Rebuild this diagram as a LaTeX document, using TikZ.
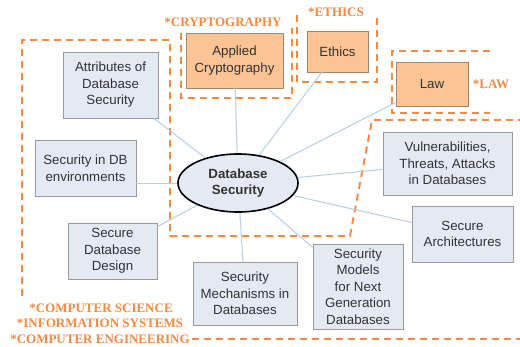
\documentclass[tikz,border=0pt]{standalone}
\usepackage{fontspec}
\setmainfont{Liberation Sans}
\newfontfamily\areafont{Liberation Serif}
\usetikzlibrary{shapes.geometric,positioning}
\definecolor{topicfill}{HTML}{E4EAF4}
\definecolor{topicdraw}{HTML}{9A9A9A}
\definecolor{topictext}{HTML}{333333}
\definecolor{otherfill}{HTML}{FBC495}
\definecolor{otherdraw}{HTML}{A08870}
\definecolor{areaorange}{HTML}{F58A42}
\definecolor{linkblue}{HTML}{B9CDE5}

\begin{document}
\begin{tikzpicture}[x=1pt,y=-1pt,
  font=\fontsize{13.3}{16.5}\selectfont,
  topic/.style={draw=topicdraw,fill=topicfill,text=topictext,align=center,inner sep=0pt,line width=0.8pt},
  other/.style={draw=otherdraw,fill=otherfill,text=topictext,align=center,inner sep=0pt,line width=0.8pt},
  area/.style={draw=areaorange,line width=1.9pt,dash pattern=on 7pt off 5pt},
  arealabel/.style={text=areaorange,font=\areafont\bfseries\fontsize{13}{15}\selectfont,inner sep=0pt},
  link/.style={draw=linkblue,line width=1pt}]
  \useasboundingbox[fill=white] (0,0) rectangle (520,346);

  % areas
  \draw[area] (22,296) -- (22,40) -- (170,40) -- (170,236) -- (350,236) -- (372,120) -- (520,120);
  \draw[area] (192,339) -- (520,339);
  \draw[area] (181,33) -- (181,98) -- (292,98) -- (292,28);
  \draw[area] (297,15) -- (297,82) -- (377,82) -- (377,15);
  \draw[area] (490,51) -- (392,51) -- (392,113) -- (490,113);

  \node[arealabel] (lcrypto) at (223,22) {*CRYPTOGRAPHY};
  \node[arealabel] (lethics) at (336,12) {*ETHICS};
  \node[arealabel] (llaw) at (491,84) {*LAW};
  \node[arealabel] (lcs) at (101,308) {*COMPUTER SCIENCE};
  \node[arealabel] (lis) at (100,323) {*INFORMATION SYSTEMS};
  \node[arealabel] (lce) at (100,339) {*COMPUTER ENGINEERING};

  % topics
  \node[ellipse,draw=black,line width=1.6pt,fill=topicfill,text=topictext,minimum width=120pt,minimum height=58pt,
        inner sep=0pt,align=center,font=\bfseries\fontsize{13.3}{16.5}\selectfont]
       (dbsec) at (238,183) {Database\\Security};
  \node[topic,minimum width=95pt,minimum height=66pt] (attr) at (110.5,85) {Attributes of\\Database\\Security};
  \node[other,minimum width=97pt,minimum height=55pt] (crypto) at (234.5,60.5) {Applied\\Cryptography};
  \node[other,minimum width=61pt,minimum height=41pt] (ethics) at (337.5,51.5) {Ethics};
  \node[other,minimum width=72pt,minimum height=44pt] (law) at (432,84) {Law};
  \node[topic,minimum width=101pt,minimum height=56pt] (secenv) at (85.5,168) {Security in DB\\environments};
  \node[topic,minimum width=129pt,minimum height=63pt] (vuln) at (447.5,163.5) {Vulnerabilities,\\Threats, Attacks\\in Databases};
  \node[topic,minimum width=89pt,minimum height=56pt] (design) at (112.5,251) {Secure\\Database\\Design};
  \node[topic,minimum width=101pt,minimum height=56pt] (arch) at (462.5,234) {Secure\\Architectures};
  \node[topic,minimum width=104pt,minimum height=63pt] (mech) at (245,293.5) {Security\\Mechanisms in\\Databases};
  \node[topic,minimum width=90pt,minimum height=85pt] (models) at (358,286.5) {Security\\Models\\for Next\\Generation\\Databases};

  % links
  \foreach \t in {attr,crypto,ethics,law,vuln,arch,models,mech,design}
    \draw[link] (dbsec) -- (\t);
  \draw[link] (dbsec.west) -- (dbsec.west -| secenv.east);
\end{tikzpicture}
\end{document}
